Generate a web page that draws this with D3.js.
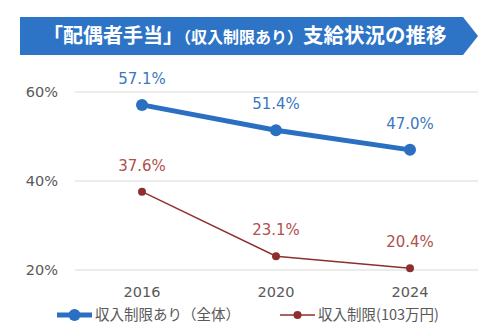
<!DOCTYPE html>
<html>
<head>
<meta charset="utf-8">
<script src="https://cdn.jsdelivr.net/npm/d3@7"></script>
<style>
  body { margin: 0; background: #fff; }
  svg { display: block; }
</style>
</head>
<body>
<div id="chart"></div>
<script>
// data
var years = ["2016", "2020", "2024"];
var allValues = [57.1, 51.4, 47.0];     // 収入制限あり（全体）
var capValues = [37.6, 23.1, 20.4];     // 収入制限(103万円)
var yTicks = [20, 40, 60];

var W = 492, H = 330;
var blue = "#2a6fc2", red = "#8e2f2f";
var font = "'Noto Sans CJK JP', 'DejaVu Sans', sans-serif";
var numFont = "'DejaVu Sans', sans-serif";

var svg = d3.select("#chart").append("svg")
    .attr("width", W)
    .attr("height", H);

//// TITLE BANNER ///////////////////////////////////////////////////////
svg.append("path")
    .attr("d", "M20,17 L463,17 L478,36 L463,55 L20,55 Z")
    .attr("fill", "#2d73c6");

var title = svg.append("text")
    .attr("x", 43)
    .attr("y", 43)
    .attr("fill", "#fff")
    .style("font-family", font)
    .style("font-weight", "bold");
title.append("tspan").style("font-size", "20px").text("「配偶者手当」");
title.append("tspan").style("font-size", "16px").text("（収入制限あり）");
title.append("tspan").style("font-size", "20.5px").text("支給状況の推移");

//// SCALES & GRID //////////////////////////////////////////////////////
var x = d3.scalePoint().domain(years).range([142, 410]);
var y = d3.scaleLinear().domain([20, 60]).range([270, 92]);

svg.append("g").selectAll("line")
    .data(yTicks)
    .join("line")
    .attr("x1", 75).attr("x2", 478)
    .attr("y1", function(d) { return y(d); })
    .attr("y2", function(d) { return y(d); })
    .attr("stroke", "#d9d9d9")
    .attr("stroke-width", 1);

svg.append("g").selectAll("text")
    .data(yTicks)
    .join("text")
    .attr("x", 58)
    .attr("y", function(d) { return y(d) + 5; })
    .attr("text-anchor", "end")
    .attr("fill", "#595959")
    .style("font-family", numFont)
    .style("font-size", "14.5px")
    .text(function(d) { return d + "%"; });

svg.append("g").selectAll("text")
    .data(years)
    .join("text")
    .attr("x", function(d) { return x(d); })
    .attr("y", 297)
    .attr("text-anchor", "middle")
    .attr("fill", "#595959")
    .style("font-family", numFont)
    .style("font-size", "14.5px")
    .text(function(d) { return d; });

//// SERIES /////////////////////////////////////////////////////////////
function drawSeries(values, color, labelColor, width, r) {
    var pts = values.map(function(v, i) { return [x(years[i]), y(v)]; });
    svg.append("path")
        .attr("d", d3.line()(pts))
        .attr("fill", "none")
        .attr("stroke", color)
        .attr("stroke-width", width);
    svg.append("g").selectAll("circle")
        .data(pts)
        .join("circle")
        .attr("cx", function(d) { return d[0]; })
        .attr("cy", function(d) { return d[1]; })
        .attr("r", r)
        .attr("fill", color);
    svg.append("g").selectAll("text")
        .data(values)
        .join("text")
        .attr("x", function(d, i) { return x(years[i]); })
        .attr("y", function(d) { return y(d) - 21; })
        .attr("text-anchor", "middle")
        .attr("fill", labelColor)
        .style("font-family", numFont)
        .style("font-size", "15px")
        .text(function(d) { return d.toFixed(1) + "%"; });
}

drawSeries(capValues, red, "#b0504c", 1.4, 4);
drawSeries(allValues, blue, "#3b78bf", 5, 6);

//// LEGEND /////////////////////////////////////////////////////////////
function legendItem(x0, color, width, r, label) {
    svg.append("line")
        .attr("x1", x0).attr("x2", x0 + 35)
        .attr("y1", 315).attr("y2", 315)
        .attr("stroke", color)
        .attr("stroke-width", width);
    svg.append("circle")
        .attr("cx", x0 + 17.5).attr("cy", 315)
        .attr("r", r)
        .attr("fill", color);
    svg.append("text")
        .attr("x", x0 + 38)
        .attr("y", 320)
        .attr("fill", "#595959")
        .style("font-family", font)
        .style("font-size", "14.5px")
        .text(label);
}

legendItem(57, blue, 5, 6, "収入制限あり（全体）");
legendItem(280, red, 1.4, 4, "収入制限(103万円)");
</script>
</body>
</html>
